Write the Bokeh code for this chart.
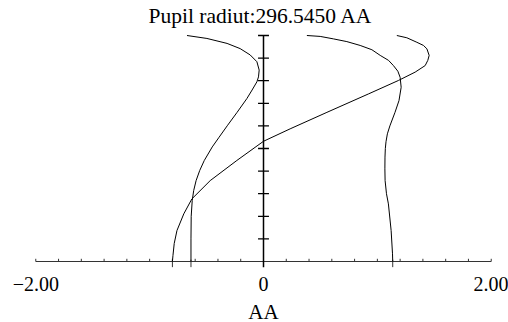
from bokeh.plotting import figure
from bokeh.models import FixedTicker, Range1d
from bokeh.embed import file_html
from bokeh.resources import INLINE

# ---- data ----
title_text = "Pupil radiut:296.5450 AA"
x_label = "AA"

# curve A (left curve, ends near -0.64)
curve_a_y = [1.0, 0.987, 0.965, 0.942, 0.914, 0.884, 0.847, 0.817, 0.795, 0.759, 0.721, 0.66,
             0.603, 0.55, 0.507, 0.447, 0.403, 0.358, 0.314, 0.27, 0.2, 0.1, 0.0]
curve_a_x = [-0.672, -0.497, -0.32, -0.205, -0.117, -0.058, -0.038, -0.044, -0.058, -0.10, -0.146, -0.232,
             -0.315, -0.39, -0.45, -0.52, -0.56, -0.592, -0.613, -0.626, -0.635, -0.637, -0.637]

# curve B (crossing curve, from -0.80 to 1.46)
curve_b_y = [0.0, 0.027, 0.08, 0.137, 0.211, 0.277, 0.358, 0.447, 0.532, 0.587, 0.66,
             0.742, 0.801, 0.838, 0.867, 0.89, 0.912, 0.941, 0.956, 0.97, 0.99, 1.0]
curve_b_x = [-0.80, -0.795, -0.784, -0.76, -0.70, -0.629, -0.468, -0.234, 0.0, 0.234, 0.557,
             0.924, 1.185, 1.332, 1.42, 1.443, 1.455, 1.435, 1.405, 1.347, 1.259, 1.171]

# curve C (right curve, ends near 1.13)
curve_c_y = [1.0, 0.996, 0.985, 0.973, 0.956, 0.937, 0.912, 0.89, 0.867, 0.842, 0.815, 0.771,
             0.712, 0.66, 0.6, 0.565, 0.53, 0.5, 0.462, 0.41, 0.358, 0.3, 0.255, 0.137, 0.034, 0.0]
curve_c_x = [0.381, 0.498, 0.615, 0.732, 0.849, 0.952, 1.025, 1.098, 1.141, 1.18, 1.20, 1.209,
             1.19, 1.155, 1.11, 1.088, 1.076, 1.07, 1.067, 1.066, 1.068, 1.08, 1.097, 1.121, 1.133, 1.135]

x_tick_values = [-2.0, 0.0, 2.0]
x_tick_labels = ["\u22122.00", "0", "2.00"]
x_minor_ticks = [-2.0, -1.8, -1.6, -1.4, -1.2, -1.0, -0.8, -0.6, -0.4, -0.2, 0.0,
                 0.2, 0.4, 0.6, 0.8, 1.0, 1.2, 1.4, 1.6, 1.8, 2.0]
pupil_ticks = [0.1, 0.2, 0.3, 0.4, 0.5, 0.6, 0.7, 0.8, 0.9, 1.0]

# ---- figure ----
FONT = "Liberation Serif"
p = figure(frame_width=460, frame_height=238,
           x_range=Range1d(-2.02, 2.02), y_range=Range1d(-0.0398, 1.0133),
           output_backend="svg", toolbar_location=None, y_axis_location=None,
           min_border_left=33, min_border_right=15, min_border_top=32, min_border_bottom=52,
           background_fill_color="white", border_fill_color="white",
           outline_line_color=None)
p.grid.visible = False

p.title.text = title_text
p.title.align = "left"
p.title.offset = 115
p.title.vertical_align = "top"
p.title.standoff = 6
p.title.text_font = FONT
p.title.text_font_size = "21.5px"
p.title.text_font_style = "normal"
p.title.text_color = "black"

ax = p.xaxis[0]
ax.ticker = FixedTicker(ticks=x_tick_values, minor_ticks=[])
ax.major_label_overrides = dict(zip(x_tick_values, x_tick_labels))
ax.axis_line_color = None
ax.major_tick_line_color = None
ax.minor_tick_line_color = None
ax.major_tick_in = 0
ax.major_tick_out = 0
ax.major_label_standoff = 6
ax.major_label_text_font = FONT
ax.major_label_text_font_size = "20px"
ax.major_label_text_color = "black"
ax.axis_label = x_label
ax.axis_label_text_font = FONT
ax.axis_label_text_font_size = "21px"
ax.axis_label_text_font_style = "normal"
ax.axis_label_text_color = "black"
ax.axis_label_standoff = 6

# horizontal axis line and its small ticks
p.segment(x0=[x_minor_ticks[0]], x1=[x_minor_ticks[-1]], y0=[0], y1=[0],
          line_color="#333333", line_width=1)
p.segment(x0=x_minor_ticks, x1=x_minor_ticks, y0=[0] * len(x_minor_ticks),
          y1=[0.012] * len(x_minor_ticks), line_color="#333333", line_width=1)

# vertical (pupil) axis at x = 0 and its cross ticks
p.segment(x0=[0], x1=[0], y0=[-0.025], y1=[pupil_ticks[-1]], line_color="black", line_width=1.5)
p.segment(x0=[-0.048] * len(pupil_ticks), x1=[0.048] * len(pupil_ticks),
          y0=pupil_ticks, y1=pupil_ticks, line_color="black", line_width=1.3)

# marks at the foot of each curve
feet = [curve_a_x[-1], curve_b_x[0], curve_c_x[-1]]
p.segment(x0=feet, x1=feet, y0=[0.008] * 3, y1=[-0.025] * 3, line_color="#333333", line_width=1)

# the three curves
for xs, ys in [(curve_a_x, curve_a_y), (curve_b_x, curve_b_y), (curve_c_x, curve_c_y)]:
    p.line(xs, ys, line_color="black", line_width=1, line_join="round")

open("out.html", "w").write(file_html(p, INLINE))
